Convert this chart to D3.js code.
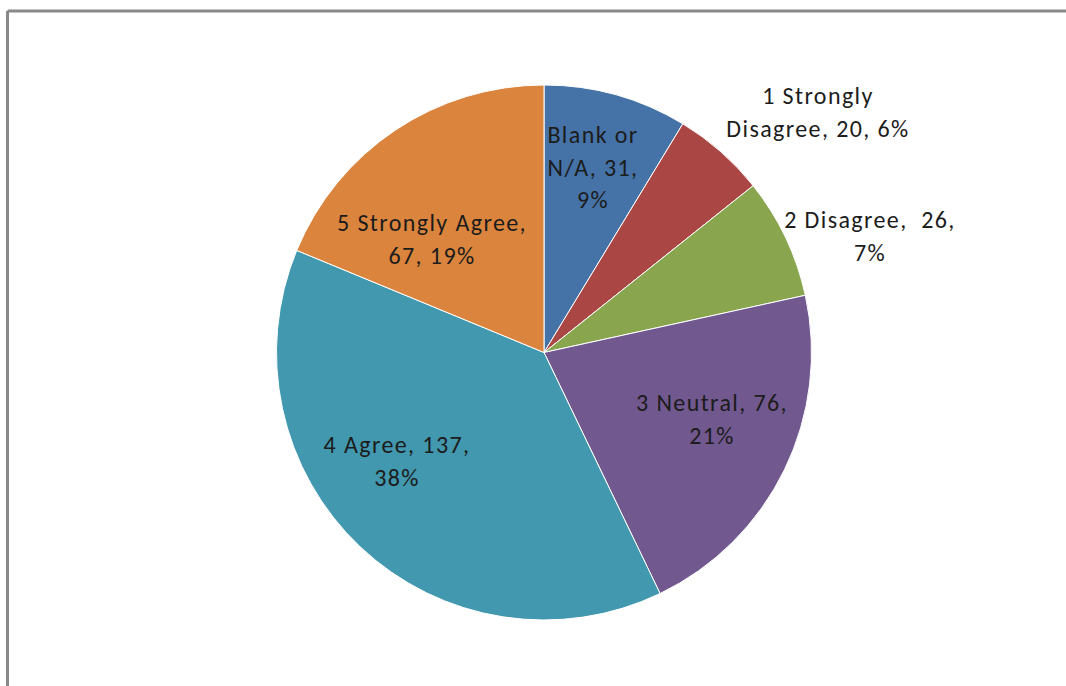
<!DOCTYPE html>
<html>
<head>
<meta charset="utf-8">
<script src="https://cdn.jsdelivr.net/npm/d3@7/dist/d3.min.js"></script>
<style>
  html, body { margin: 0; padding: 0; background: #fff; }
  svg { display: block; }
  text { font-family: Carlito, Lato, "Open Sans", sans-serif; font-size: 24px; letter-spacing: 1.4px; fill: #1c1c1c; }
</style>
</head>
<body>
<svg id="chart" width="1066" height="686"></svg>
<script>
// Survey responses
const categories = ["Blank or N/A", "1 Strongly Disagree", "2 Disagree", "3 Neutral", "4 Agree", "5 Strongly Agree"];
const counts = [31, 20, 26, 76, 137, 67];
const colors = ["#4572A7", "#AA4643", "#89A54E", "#71588F", "#4198AF", "#DB843D"];
// Label lines per slice (text as drawn), and label anchor positions
const labelLines = [
  ["Blank or", "N/A, 31,", "9%"],
  ["1 Strongly", "Disagree, 20, 6%"],
  ["2 Disagree,  26,", "7%"],
  ["3 Neutral, 76,", "21%"],
  ["4 Agree, 137,", "38%"],
  ["5 Strongly Agree,", "67, 19%"]
];
const labelPos = [[593, 137], [818, 98], [870, 222], [712, 405], [397, 447], [432, 225]];

const svg = d3.select("#chart");
const cx = 544, cy = 352.5, r = 267.5;

// Frame: top and left edges
svg.append("line").attr("x1", 7.5).attr("y1", 11).attr("x2", 1066).attr("y2", 11)
  .attr("stroke", "#898989").attr("stroke-width", 3);
svg.append("line").attr("x1", 7.5).attr("y1", 11).attr("x2", 7.5).attr("y2", 686)
  .attr("stroke", "#898989").attr("stroke-width", 3);

const pie = d3.pie().sort(null).value(d => d);
const arc = d3.arc().innerRadius(0).outerRadius(r);
const arcs = pie(counts);

const g = svg.append("g").attr("transform", `translate(${cx},${cy})`);
g.selectAll("path").data(arcs).enter().append("path")
  .attr("d", arc)
  .attr("fill", (d, i) => colors[i])
  .attr("stroke", "#fff")
  .attr("stroke-width", 1);

const lineH = 32.5;
const labels = svg.append("g");
labelLines.forEach((lines, i) => {
  const t = labels.append("text")
    .attr("text-anchor", "middle")
    .attr("x", labelPos[i][0])
    .attr("y", labelPos[i][1])
    .attr("dominant-baseline", "middle")
    .style("white-space", "pre");
  lines.forEach((ln, k) => {
    t.append("tspan").attr("x", labelPos[i][0]).attr("y", labelPos[i][1] + k * lineH).text(ln);
  });
});
</script>
</body>
</html>
